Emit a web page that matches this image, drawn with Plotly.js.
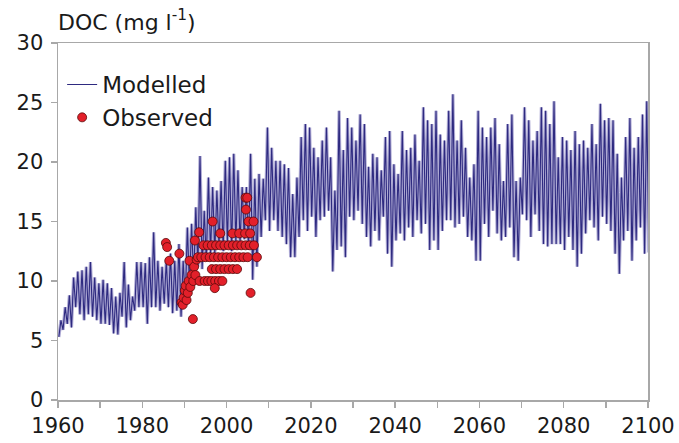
<!DOCTYPE html>
<html>
<head>
<meta charset="utf-8">
<script src="https://cdn.plot.ly/plotly-3.0.1.min.js"></script>
<style>html,body{margin:0;padding:0;background:#fff;}#chart{width:679px;height:443px;}</style>
</head>
<body>
<div id="chart"></div>
<script>
// Modelled DOC: seasonal high and low per year, 1960..2100
const modelYears = [];
for (let y = 1960; y <= 2100; y++) modelYears.push(y);
const modelHigh = [
 6.7,7.8,8.8,10.3,10.8,10.9,11.2,11.6,10.3,9.8,
 10.1,9.8,9.4,8.7,9.0,11.6,9.7,8.7,11.6,11.6,
 11.5,12.0,14.1,11.7,11.2,11.7,12.3,11.7,13.1,11.7,
 14.5,14.8,16.2,20.5,15.9,18.7,17.9,17.6,18.4,20.1,
 20.4,20.7,19.3,17.9,17.9,20.7,18.6,19.0,18.6,22.9,
 21.2,20.1,20.1,19.8,19.5,17.3,18.7,22.1,23.2,22.9,
 21.2,20.4,21.8,22.9,20.4,17.6,24.3,21.0,23.7,22.9,
 21.8,24.0,23.2,19.6,20.7,20.4,19.3,22.1,22.6,19.8,
 19.0,22.6,21.0,21.2,22.3,20.1,24.6,23.5,23.2,24.3,
 22.3,21.8,24.3,25.7,21.8,23.5,21.2,18.7,19.8,24.3,
 22.9,22.1,22.9,23.7,21.5,18.4,23.2,24.0,18.4,18.7,
 24.6,23.5,21.8,22.6,24.6,24.3,23.2,25.1,20.4,22.1,
 21.8,21.0,22.6,21.5,21.8,21.2,23.2,21.5,24.9,23.5,
 23.7,23.5,20.7,18.7,22.1,23.7,21.2,22.1,24.0,25.1,
 20.1
];
const modelLow = [
 5.3,5.9,6.4,6.1,7.8,7.2,6.7,7.2,7.0,6.7,
 6.4,6.4,6.3,5.6,5.5,7.0,6.1,6.7,7.5,7.8,
 7.8,6.4,7.8,7.8,7.5,8.1,7.8,7.3,7.5,7.0,
 8.4,9.5,10.1,11.2,11.0,11.7,12.3,12.3,12.9,12.5,
 13.0,12.5,13.1,13.1,13.5,12.6,10.1,11.2,13.7,15.1,
 14.2,15.1,14.2,13.7,13.1,12.0,12.0,13.7,15.1,14.2,
 15.4,13.7,15.1,15.4,15.9,10.8,12.6,12.9,12.0,15.4,
 15.1,15.9,14.8,13.7,12.9,14.2,13.4,15.4,12.3,11.2,
 13.4,14.0,13.4,14.5,13.7,15.1,14.0,14.8,12.6,13.4,
 12.6,14.2,15.1,15.1,14.5,14.8,15.4,13.7,13.4,11.7,
 11.7,14.8,13.7,15.9,14.0,13.4,13.7,14.5,12.0,11.7,
 15.6,15.1,13.7,15.6,14.2,13.1,12.9,13.1,13.1,13.1,
 12.6,13.7,12.6,11.2,12.3,14.0,15.1,14.5,13.4,15.4,
 14.8,14.2,12.3,10.6,13.4,14.2,11.7,13.4,14.5,12.3,
 12.4
];

// Observed DOC samples (year, mg/l)
const obsYear = [
 1985.6,1985.9,1986.4,1988.8,
 1989.3,1989.6,1989.8,1990.1,1990.3,1990.5,1990.8,1991.0,1991.2,1991.4,1991.7,
 1992.0,1992.1,1992.3,1992.5,1992.6,1992.9,1993.2,1993.5,1993.6,
 1994.5,1995.5,1996.5,1997.5,1998.5,1999.5,2000.5,2001.5,2002.5,2003.5,2004.5,2005.5,2006.5,
 1994.0,1995.0,1996.0,1997.0,1998.0,1999.0,2000.0,2001.0,2002.0,2003.0,2004.0,2005.0,
 1996.5,1997.5,1998.5,1999.5,2000.5,2001.5,2002.5,
 1994.8,1995.6,1996.4,1997.3,1998.2,1999.0,
 1997.2,2005.7,
 1998.5,2001.4,2003.0,2004.4,2005.6,
 1996.7,2005.2,2006.4,
 2004.6,2004.5,2004.9,
 2007.2
];
const obsValue = [
 13.2,12.85,11.7,12.3,
 8.2,8.0,8.6,9.2,9.6,8.4,9.0,10.0,11.7,9.5,10.5,
 6.8,10.0,11.2,13.4,10.5,11.8,12.0,14.1,10.0,
 13,13,13,13,13,13,13,13,13,13,13,13,13,
 12,12,12,12,12,12,12,12,12,12,12,12,
 11,11,11,11,11,11,11,
 10,10,10,10,10,10,
 9.4,9.0,
 14,14,14,14,14,
 15,15,15,
 16,17,17,
 12
];

const xTickVals = [1960,1980,2000,2020,2040,2060,2080,2100];
const yTickVals = [0,5,10,15,20,25,30];

// build the seasonal zigzag: low then high within each year
const mx = [], my = [];
modelYears.forEach((yr, i) => {
  mx.push(yr + 0.2); my.push(modelLow[i]);
  mx.push(yr + 0.7); my.push(modelHigh[i]);
});

const font = 'DejaVu Sans, Liberation Sans, Arial, sans-serif';
const traces = [
  {x: mx, y: my, type: 'scatter', mode: 'lines', name: 'Modelled band', showlegend: false,
   hoverinfo: 'skip', line: {color: '#aeaad4', width: 3.2}},
  {x: mx, y: my, type: 'scatter', mode: 'lines', name: 'Modelled',
   line: {color: '#2e2a80', width: 1.1}, legendgroup: 'a'},
  {x: obsYear, y: obsValue, type: 'scatter', mode: 'markers', name: 'Observed',
   marker: {color: '#e3202a', size: 9, line: {color: 'rgba(90,10,10,0.8)', width: 1}},
   legendgroup: 'b'}
];

const axisCommon = {
  showgrid: false, zeroline: false, showline: true, linecolor: '#a8a8a8', linewidth: 1.5,
  mirror: true, ticks: 'outside', ticklen: 6, tickcolor: '#a8a8a8', tickwidth: 1.5,
  tickfont: {family: font, size: 21, color: '#1a1a1a'}
};

const layout = {
  width: 679, height: 443,
  margin: {l: 58, r: 31, t: 43, b: 43},
  paper_bgcolor: '#fff', plot_bgcolor: '#fff',
  showlegend: true,
  title: {text: 'DOC (mg l<sup>-1</sup>)', font: {family: font, size: 22, color: '#1a1a1a'},
          xref: 'paper', x: 0, xanchor: 'left', yref: 'container', y: 1 - 22/443, yanchor: 'middle'},
  xaxis: Object.assign({}, axisCommon, {range: [1960, 2100], tickvals: xTickVals,
          ticktext: xTickVals.map(String),
          minor: {dtick: 10, tick0: 1960, ticks: 'outside', ticklen: 6, tickcolor: '#a8a8a8', tickwidth: 1.5}}),
  yaxis: Object.assign({}, axisCommon, {range: [0, 30], tickvals: yTickVals, ticklabelstandoff: 3}),
  legend: {x: 0.007, y: 0.944, xanchor: 'left', yanchor: 'top', bgcolor: 'rgba(0,0,0,0)',
           font: {family: font, size: 23, color: '#1a1a1a'}, traceorder: 'grouped', tracegroupgap: 0,
           itemwidth: 30}
};

Plotly.newPlot('chart', traces, layout, {displayModeBar: false, staticPlot: true});
</script>
</body>
</html>
